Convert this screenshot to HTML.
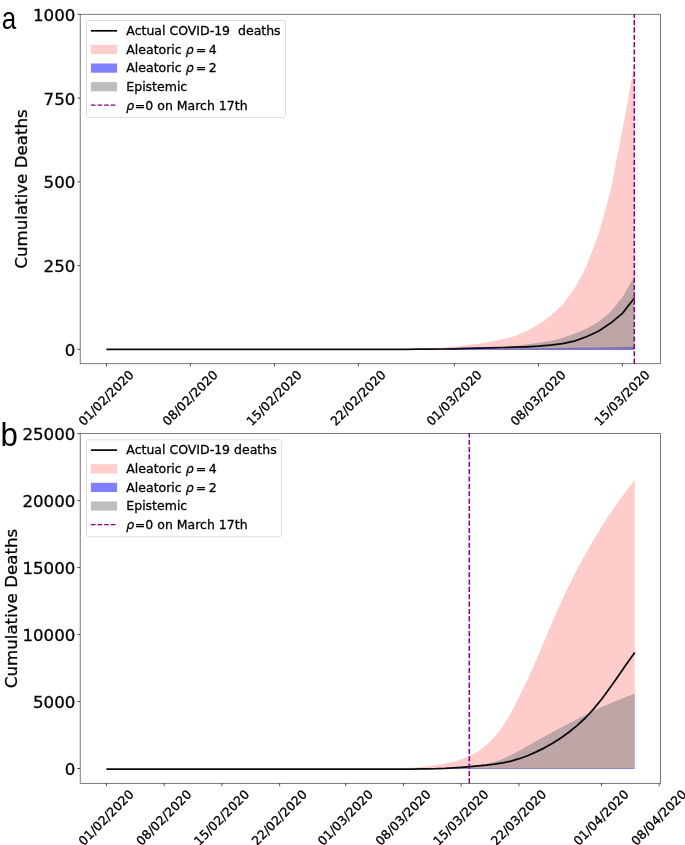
<!DOCTYPE html>
<html><head><meta charset="utf-8"><title>Cumulative Deaths</title>
<style>
html,body{margin:0;padding:0;background:#fff;}
svg{display:block}
text{font-family:"DejaVu Sans","Liberation Sans",sans-serif;fill:#000;stroke:#000;stroke-width:0.3px}
.pl{stroke:none}
.tk{font-size:16.67px}
.sm{font-size:12.5px}
.pl{font-family:"Liberation Sans","DejaVu Sans",sans-serif;font-size:33px}
.it{font-style:italic}
</style></head><body>
<svg width="685" height="845" viewBox="0 0 685 845">
<rect width="685" height="845" fill="#fff"/>

<polygon points="394.4,349.3 406.4,349.1 418.4,348.7 430.4,348.2 442.4,347.4 454.4,346.4 466.4,345.0 478.4,343.7 490.4,341.8 502.4,339.3 514.4,336.2 526.4,331.2 538.4,324.6 550.4,315.9 562.4,304.7 574.4,288.7 586.4,266.5 598.4,234.4 610.4,191.4 622.4,130.3 634.4,64.0 634.4,349.4 394.4,349.4" fill="#ff0000" fill-opacity="0.2"/>
<polygon points="400.0,349.5 470.0,348.8 550.0,348.0 600.0,347.4 634.4,346.7 634.4,349.9 400.0,349.9" fill="#0000ff" fill-opacity="0.5"/>
<polygon points="490.4,348.0 502.4,347.0 514.4,345.9 526.4,344.5 538.4,342.7 550.4,341.0 562.4,337.9 574.4,333.7 586.4,328.8 598.4,321.7 610.4,311.9 622.4,297.2 634.4,276.6 634.4,349.4 490.4,349.4" fill="#808080" fill-opacity="0.5"/>
<polyline points="106.4,349.3 118.4,349.3 130.4,349.3 142.4,349.3 154.4,349.3 166.4,349.3 178.4,349.3 190.4,349.3 202.4,349.3 214.4,349.3 226.4,349.3 238.4,349.3 250.4,349.3 262.4,349.3 274.4,349.3 286.4,349.3 298.4,349.3 310.4,349.3 322.4,349.3 334.4,349.3 346.4,349.3 358.4,349.3 370.4,349.3 382.4,349.3 394.4,349.3 406.4,349.3 418.4,349.2 430.4,349.1 442.4,349.0 454.4,348.8 466.4,348.4 478.4,348.1 490.4,347.8 502.4,347.5 514.4,347.2 526.4,346.8 538.4,346.2 550.4,345.2 562.4,343.6 574.4,341.1 586.4,336.7 598.4,331.3 610.4,323.3 622.4,313.4 634.4,298.0" fill="none" stroke="#0a0a0a" stroke-width="1.75" stroke-linejoin="round" stroke-linecap="butt"/>
<line x1="634.3" y1="363.7" x2="634.3" y2="14.3" stroke="#800080" stroke-width="1.5" stroke-dasharray="5.14 2.22"/>
<rect x="80.2" y="14.3" width="580.3" height="349.4" fill="none" stroke="#000" stroke-opacity="0.66" stroke-width="0.8"/>
<line x1="77.3" y1="349.4" x2="80.2" y2="349.4" stroke="#000" stroke-width="0.67"/>
<text class="tk" x="75.4" y="356.0" text-anchor="end">0</text>
<line x1="77.3" y1="265.625" x2="80.2" y2="265.625" stroke="#000" stroke-width="0.67"/>
<text class="tk" x="75.4" y="272.2" text-anchor="end">250</text>
<line x1="77.3" y1="181.85" x2="80.2" y2="181.85" stroke="#000" stroke-width="0.67"/>
<text class="tk" x="75.4" y="188.4" text-anchor="end">500</text>
<line x1="77.3" y1="98.07499999999999" x2="80.2" y2="98.07499999999999" stroke="#000" stroke-width="0.67"/>
<text class="tk" x="75.4" y="104.7" text-anchor="end">750</text>
<line x1="77.3" y1="14.3" x2="80.2" y2="14.3" stroke="#000" stroke-width="0.67"/>
<text class="tk" x="75.4" y="20.9" text-anchor="end">1000</text>
<line x1="106.40" y1="363.7" x2="106.40" y2="366.59999999999997" stroke="#000" stroke-width="0.67"/>
<text class="sm" text-anchor="middle" transform="translate(106.20,398.1) rotate(-45)" y="4.1">01/02/2020</text>
<line x1="190.40" y1="363.7" x2="190.40" y2="366.59999999999997" stroke="#000" stroke-width="0.67"/>
<text class="sm" text-anchor="middle" transform="translate(190.20,398.1) rotate(-45)" y="4.1">08/02/2020</text>
<line x1="274.40" y1="363.7" x2="274.40" y2="366.59999999999997" stroke="#000" stroke-width="0.67"/>
<text class="sm" text-anchor="middle" transform="translate(274.20,398.1) rotate(-45)" y="4.1">15/02/2020</text>
<line x1="358.40" y1="363.7" x2="358.40" y2="366.59999999999997" stroke="#000" stroke-width="0.67"/>
<text class="sm" text-anchor="middle" transform="translate(358.20,398.1) rotate(-45)" y="4.1">22/02/2020</text>
<line x1="454.40" y1="363.7" x2="454.40" y2="366.59999999999997" stroke="#000" stroke-width="0.67"/>
<text class="sm" text-anchor="middle" transform="translate(454.20,398.1) rotate(-45)" y="4.1">01/03/2020</text>
<line x1="538.40" y1="363.7" x2="538.40" y2="366.59999999999997" stroke="#000" stroke-width="0.67"/>
<text class="sm" text-anchor="middle" transform="translate(538.20,398.1) rotate(-45)" y="4.1">08/03/2020</text>
<line x1="622.40" y1="363.7" x2="622.40" y2="366.59999999999997" stroke="#000" stroke-width="0.67"/>
<text class="sm" text-anchor="middle" transform="translate(622.20,398.1) rotate(-45)" y="4.1">15/03/2020</text>
<text class="tk" text-anchor="middle" transform="translate(27.0,189.0) rotate(-90)">Cumulative Deaths</text>
<rect x="86.5" y="20.5" width="199.0" height="96.9" rx="1.7" fill="#fff" fill-opacity="0.8" stroke="#ccc" stroke-opacity="0.8" stroke-width="0.83"/>
<line x1="90.9" y1="30.8" x2="117.10000000000001" y2="30.8" stroke="#000" stroke-width="1.67"/>
<rect x="90.9" y="44.9" width="26.2" height="9.2" fill="#ff0000" fill-opacity="0.2"/>
<rect x="90.9" y="63.5" width="26.2" height="9.2" fill="#0000ff" fill-opacity="0.5"/>
<rect x="90.9" y="82.1" width="26.2" height="9.2" fill="#808080" fill-opacity="0.5"/>
<line x1="90.9" y1="105.2" x2="117.10000000000001" y2="105.2" stroke="#800080" stroke-width="1.25" stroke-dasharray="4.62 2"/>
<text class="sm" x="126.3" y="35.0" xml:space="preserve" style="white-space:pre">Actual COVID-19  deaths</text>
<text class="sm" x="126.3" y="53.7">Aleatoric <tspan class="it">ρ</tspan><tspan dx="2.1">=</tspan><tspan dx="2.6">4</tspan></text>
<text class="sm" x="126.3" y="72.2">Aleatoric <tspan class="it">ρ</tspan><tspan dx="2.1">=</tspan><tspan dx="2.6">2</tspan></text>
<text class="sm" x="126.3" y="90.9">Epistemic</text>
<text class="sm" x="126.3" y="109.5"><tspan class="it">ρ</tspan><tspan dx="0.6">=0 on March 17th</tspan></text>
<text class="pl" style="font-size:31px" transform="translate(1.7,28.6) scale(0.84,1)">a</text>
<polygon points="403.6,768.1 411.9,767.7 420.1,767.1 428.4,766.2 436.6,765.0 444.9,763.5 453.2,761.7 461.4,759.2 469.7,755.9 477.9,751.4 486.2,745.3 494.4,737.1 502.7,726.5 511.0,712.8 519.2,696.7 527.5,679.5 535.7,661.3 544.0,641.8 552.2,621.9 560.5,603.2 568.8,585.8 577.0,569.5 585.3,554.3 593.5,540.0 601.8,526.5 610.0,513.8 618.3,501.8 626.5,490.5 634.8,479.7 634.8,768.5 403.6,768.5" fill="#ff0000" fill-opacity="0.2"/>
<line x1="440" y1="768.5" x2="634.8" y2="768.5" stroke="#0000ff" stroke-opacity="0.5" stroke-width="0.8"/>
<polygon points="453.2,768.2 461.4,767.5 469.7,766.5 477.9,765.4 486.2,763.9 494.4,761.8 502.7,758.9 511.0,755.1 519.2,750.7 527.5,745.9 535.7,741.2 544.0,736.7 552.2,732.2 560.5,727.7 568.8,723.4 577.0,719.2 585.3,715.1 593.5,711.0 601.8,707.1 610.0,703.4 618.3,699.9 626.5,696.7 634.8,693.8 634.8,768.5 453.2,768.5" fill="#808080" fill-opacity="0.5"/>
<polyline points="106.4,769.0 114.7,769.0 122.9,769.0 131.2,769.0 139.4,769.0 147.7,769.0 155.9,769.0 164.2,769.0 172.4,769.0 180.7,769.0 189.0,769.0 197.2,769.0 205.5,769.0 213.7,769.0 222.0,769.0 230.2,769.0 238.5,769.0 246.8,769.0 255.0,769.0 263.3,769.0 271.5,769.0 279.8,769.0 288.0,769.0 296.3,769.0 304.5,769.0 312.8,769.0 321.1,769.0 329.3,769.0 337.6,769.0 345.8,769.0 354.1,769.0 362.3,769.0 370.6,769.0 378.9,769.0 387.1,769.0 395.4,769.0 403.6,769.0 411.9,769.0 420.1,768.9 428.4,768.8 436.6,768.7 444.9,768.4 453.2,767.9 461.4,767.3 469.7,766.6 477.9,765.9 486.2,765.2 494.4,764.2 502.7,762.9 511.0,761.1 519.2,758.7 527.5,755.7 535.7,752.1 544.0,748.1 552.2,743.4 560.5,738.2 568.8,732.3 577.0,725.6 585.3,718.0 593.5,709.1 601.8,699.0 610.0,687.8 618.3,676.1 626.5,664.1 634.8,652.4" fill="none" stroke="#0a0a0a" stroke-width="1.75" stroke-linejoin="round" stroke-linecap="butt"/>
<line x1="469.29999999999995" y1="783.35" x2="469.29999999999995" y2="433.6" stroke="#800080" stroke-width="1.5" stroke-dasharray="5.14 2.22"/>
<rect x="80.2" y="433.6" width="580.3" height="349.75" fill="none" stroke="#000" stroke-opacity="0.66" stroke-width="0.8"/>
<line x1="77.3" y1="768.5" x2="80.2" y2="768.5" stroke="#000" stroke-width="0.67"/>
<text class="tk" x="75.4" y="775.1" text-anchor="end">0</text>
<line x1="77.3" y1="701.52" x2="80.2" y2="701.52" stroke="#000" stroke-width="0.67"/>
<text class="tk" x="75.4" y="708.1" text-anchor="end">5000</text>
<line x1="77.3" y1="634.54" x2="80.2" y2="634.54" stroke="#000" stroke-width="0.67"/>
<text class="tk" x="75.4" y="641.1" text-anchor="end">10000</text>
<line x1="77.3" y1="567.5600000000001" x2="80.2" y2="567.5600000000001" stroke="#000" stroke-width="0.67"/>
<text class="tk" x="75.4" y="574.2" text-anchor="end">15000</text>
<line x1="77.3" y1="500.58" x2="80.2" y2="500.58" stroke="#000" stroke-width="0.67"/>
<text class="tk" x="75.4" y="507.2" text-anchor="end">20000</text>
<line x1="77.3" y1="433.6" x2="80.2" y2="433.6" stroke="#000" stroke-width="0.67"/>
<text class="tk" x="75.4" y="440.2" text-anchor="end">25000</text>
<line x1="106.40" y1="783.35" x2="106.40" y2="786.25" stroke="#000" stroke-width="0.67"/>
<text class="sm" text-anchor="middle" transform="translate(106.20,817.8) rotate(-45)" y="4.1">01/02/2020</text>
<line x1="164.15" y1="783.35" x2="164.15" y2="786.25" stroke="#000" stroke-width="0.67"/>
<text class="sm" text-anchor="middle" transform="translate(163.95,817.8) rotate(-45)" y="4.1">08/02/2020</text>
<line x1="221.90" y1="783.35" x2="221.90" y2="786.25" stroke="#000" stroke-width="0.67"/>
<text class="sm" text-anchor="middle" transform="translate(221.70,817.8) rotate(-45)" y="4.1">15/02/2020</text>
<line x1="279.65" y1="783.35" x2="279.65" y2="786.25" stroke="#000" stroke-width="0.67"/>
<text class="sm" text-anchor="middle" transform="translate(279.45,817.8) rotate(-45)" y="4.1">22/02/2020</text>
<line x1="345.65" y1="783.35" x2="345.65" y2="786.25" stroke="#000" stroke-width="0.67"/>
<text class="sm" text-anchor="middle" transform="translate(345.45,817.8) rotate(-45)" y="4.1">01/03/2020</text>
<line x1="403.40" y1="783.35" x2="403.40" y2="786.25" stroke="#000" stroke-width="0.67"/>
<text class="sm" text-anchor="middle" transform="translate(403.20,817.8) rotate(-45)" y="4.1">08/03/2020</text>
<line x1="461.15" y1="783.35" x2="461.15" y2="786.25" stroke="#000" stroke-width="0.67"/>
<text class="sm" text-anchor="middle" transform="translate(460.95,817.8) rotate(-45)" y="4.1">15/03/2020</text>
<line x1="518.90" y1="783.35" x2="518.90" y2="786.25" stroke="#000" stroke-width="0.67"/>
<text class="sm" text-anchor="middle" transform="translate(518.70,817.8) rotate(-45)" y="4.1">22/03/2020</text>
<line x1="601.40" y1="783.35" x2="601.40" y2="786.25" stroke="#000" stroke-width="0.67"/>
<text class="sm" text-anchor="middle" transform="translate(601.20,817.8) rotate(-45)" y="4.1">01/04/2020</text>
<line x1="659.15" y1="783.35" x2="659.15" y2="786.25" stroke="#000" stroke-width="0.67"/>
<text class="sm" text-anchor="middle" transform="translate(658.95,817.8) rotate(-45)" y="4.1">08/04/2020</text>
<text class="tk" text-anchor="middle" transform="translate(16.6,608.5) rotate(-90)">Cumulative Deaths</text>
<rect x="86.5" y="439.8" width="194.8" height="96.9" rx="1.7" fill="#fff" fill-opacity="0.8" stroke="#ccc" stroke-opacity="0.8" stroke-width="0.83"/>
<line x1="90.9" y1="450.1" x2="117.10000000000001" y2="450.1" stroke="#000" stroke-width="1.67"/>
<rect x="90.9" y="464.2" width="26.2" height="9.2" fill="#ff0000" fill-opacity="0.2"/>
<rect x="90.9" y="482.8" width="26.2" height="9.2" fill="#0000ff" fill-opacity="0.5"/>
<rect x="90.9" y="501.4" width="26.2" height="9.2" fill="#808080" fill-opacity="0.5"/>
<line x1="90.9" y1="524.5" x2="117.10000000000001" y2="524.5" stroke="#800080" stroke-width="1.25" stroke-dasharray="4.62 2"/>
<text class="sm" x="126.3" y="454.4" xml:space="preserve" style="white-space:pre">Actual COVID-19 deaths</text>
<text class="sm" x="126.3" y="473.0">Aleatoric <tspan class="it">ρ</tspan><tspan dx="2.1">=</tspan><tspan dx="2.6">4</tspan></text>
<text class="sm" x="126.3" y="491.6">Aleatoric <tspan class="it">ρ</tspan><tspan dx="2.1">=</tspan><tspan dx="2.6">2</tspan></text>
<text class="sm" x="126.3" y="510.2">Epistemic</text>
<text class="sm" x="126.3" y="528.8"><tspan class="it">ρ</tspan><tspan dx="0.6">=0 on March 17th</tspan></text>
<text class="pl" style="font-size:34px" transform="translate(0.4,445.6) scale(0.92,1)">b</text>
</svg></body></html>
